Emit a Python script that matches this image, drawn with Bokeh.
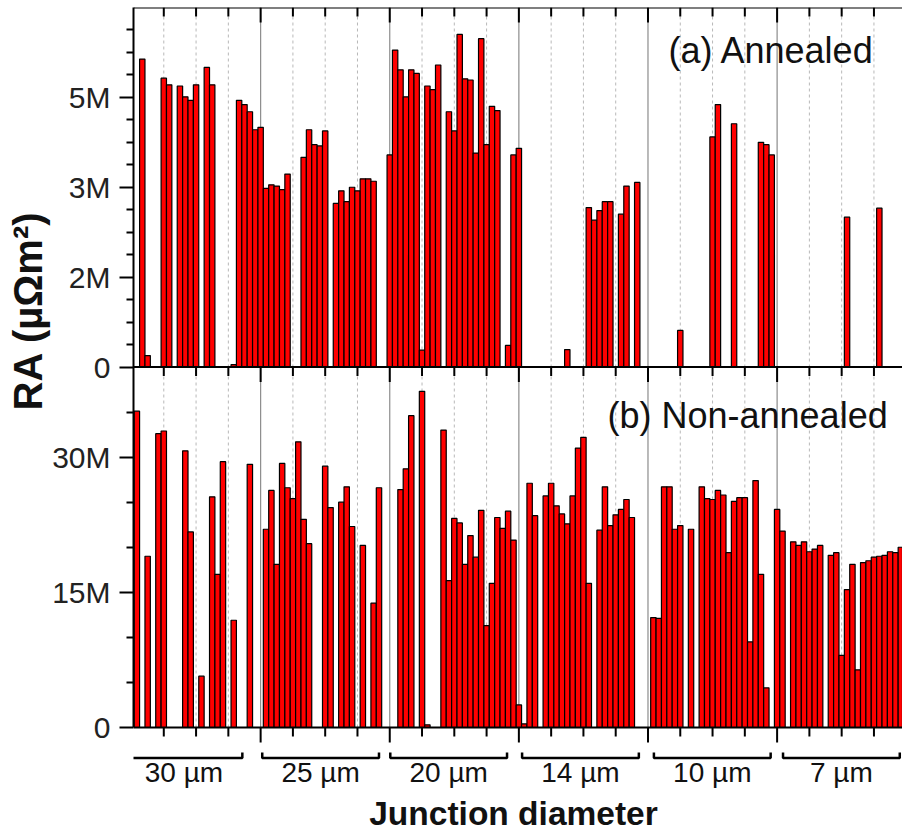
import math
from bokeh.plotting import figure
from bokeh.models import Range1d, FixedTicker, CustomJSTickFormatter, Span
from bokeh.embed import file_html
from bokeh.resources import INLINE
from bokeh.core.properties import value

# ---------------- data (values in units of 1e6 µΩm²) ----------------
groups = ["30 µm", "25 µm", "20 µm", "14 µm", "10 µm", "7 µm"]
slots_per_group = 24
slots_per_minor = 6

# (a) Annealed, one list per junction-diameter group (0 = no junction)
annealed_30 = [0, 5.14, 0.19, 0, 0, 4.82, 4.71, 0, 4.69, 4.51, 4.45, 4.71,
               0, 5.00, 4.71, 0, 0, 0, 0.04, 4.45, 4.38, 4.26, 3.96, 4.00]
annealed_25 = [2.98, 3.04, 3.02, 2.96, 3.22, 0, 0, 3.50, 3.96, 3.71, 3.69, 3.94,
               0, 2.73, 2.94, 2.76, 3.00, 2.94, 3.14, 3.14, 3.10, 0, 0, 3.54]
annealed_20 = [5.29, 4.96, 4.51, 4.96, 4.90, 0.28, 4.69, 4.63, 5.04, 0, 4.26, 3.94,
               5.55, 4.81, 4.79, 3.57, 5.48, 3.71, 4.35, 4.28, 0, 0.36, 3.54, 3.65]
annealed_14 = [0, 0, 0, 0, 0, 0, 0, 0, 0.29, 0, 0, 0,
               2.66, 2.45, 2.61, 2.76, 2.76, 0, 2.55, 3.02, 0, 3.08, 0, 0]
annealed_10 = [0, 0, 0, 0, 0, 0.61, 0, 0, 0, 0, 0, 3.84,
               4.38, 0, 0, 4.06, 0, 0, 0, 0, 3.75, 3.71, 3.54, 0]
annealed_7 = [0, 0, 0, 0, 0, 0, 0, 0, 0, 0, 0, 0,
              2.50, 0, 0, 0, 0, 0, 2.65, 0, 0, 0, 0]

# (b) Non-annealed
nonann_30 = [35.1, 0, 19.0, 0, 32.6, 32.9, 0, 0, 0, 30.7, 21.7, 0,
             5.7, 0, 25.6, 17.0, 29.5, 0, 11.9, 0, 0, 29.2, 0, 0]
nonann_25 = [22.0, 26.3, 18.1, 29.3, 26.6, 25.4, 31.7, 23.1, 20.4, 0, 0, 29.0,
             24.4, 0, 25.0, 26.7, 22.3, 0, 20.2, 0, 13.8, 26.6, 0, 0]
nonann_20 = [0, 26.4, 28.7, 34.6, 0, 37.3, 0.3, 0, 0, 33.0, 16.3, 23.2,
             22.7, 18.1, 21.3, 18.9, 24.1, 11.3, 16.0, 23.3, 22.1, 24.0, 20.8, 2.5]
nonann_14 = [0.4, 27.1, 23.5, 0, 25.7, 27.1, 24.6, 23.7, 22.6, 25.7, 31.0, 32.2,
             16.0, 0, 21.9, 26.7, 22.4, 23.6, 24.2, 25.3, 23.3, 0, 0, 0]
nonann_10 = [12.2, 12.1, 26.7, 26.7, 22.0, 22.4, 0, 22.0, 0, 26.7, 25.4, 25.3,
             26.3, 25.8, 19.4, 25.1, 25.5, 25.5, 9.5, 27.4, 17.0, 4.4, 0, 24.2]
nonann_7 = [21.8, 0, 20.6, 20.2, 20.6, 19.5, 19.8, 20.2, 0, 19.1, 19.4, 8.0,
            15.3, 18.1, 6.4, 18.3, 18.5, 18.9, 19.0, 19.1, 19.5, 19.4, 20.0]

annealed = [annealed_30, annealed_25, annealed_20, annealed_14, annealed_10, annealed_7]
nonannealed = [nonann_30, nonann_25, nonann_20, nonann_14, nonann_10, nonann_7]

top_ticks = [0, 1.5e6, 3e6, 4.5e6]
top_minor = [0.375e6, 0.75e6, 1.125e6, 1.875e6, 2.25e6, 2.625e6,
             3.375e6, 3.75e6, 4.125e6, 4.875e6, 5.25e6, 5.625e6]
bot_ticks = [0, 15e6, 30e6]
bot_minor = [5e6, 10e6, 20e6, 25e6, 35e6]
top_max = 6e6
bot_max = 40e6

# ---------------- layout constants (page pixels) ----------------
W, H = 902, 836
PX_LEFT, PX_RIGHT = 133, 902
PX_TOP, PX_MID, PX_ZERO, PX_BOT = 7, 366.5, 727, 836
SX = 5.38                       # px per slot
X0 = 0.37
X1 = X0 + (PX_RIGHT - PX_LEFT) / SX
BASE_SHIFT = 0.35               # measured baseline offset of svg text (em)

sB = bot_max / (PX_ZERO - PX_MID)     # data per px, bottom panel
sT = top_max / (PX_MID - PX_TOP)      # data per px, top panel
K = sB / sT


def xd(px):
    return X0 + (px - PX_LEFT) / SX


def yb(py):
    return (PX_ZERO - py) * sB


def yt(py):
    return (PX_MID - py) * sT


FONT = "Liberation Sans"

p = figure(width=W, height=H, output_backend="svg", toolbar_location=None,
           x_range=Range1d(X0, X1),
           y_range=Range1d(yb(PX_BOT), yb(PX_TOP)),
           x_axis_location=None,
           title="RA (µΩm²)", title_location="left",
           min_border_left=PX_LEFT, min_border_right=0,
           min_border_top=PX_TOP, min_border_bottom=0)
p.extra_y_ranges = {"top": Range1d(yt(PX_BOT), top_max)}
p.outline_line_color = None
p.xgrid.visible = False
p.ygrid.visible = False
p.background_fill_color = "white"
p.border_fill_color = "white"

# y-axis title (left title, text starts 410 px down the page)
p.title.align = "left"
p.title.offset = PX_BOT - 410
p.title.text_font = FONT
p.title.text_font_size = "40px"
p.title.text_font_style = "bold"
p.title.text_color = "#111111"
p.title.standoff = 0

# ---------------- x positions ----------------
xs_top, v_top, xs_bot, v_bot = [], [], [], []
for g in range(len(groups)):
    for i, v in enumerate(annealed[g]):
        if v > 0:
            xs_top.append(g * slots_per_group + i + 1)
            v_top.append(v * 1e6)
    for i, v in enumerate(nonannealed[g]):
        if v > 0:
            xs_bot.append(g * slots_per_group + i + 1)
            v_bot.append(v * 1e6)

n_slots = len(groups) * slots_per_group
majors = [slots_per_group * (g + 1) for g in range(len(groups) - 1)]
minors = [k for k in range(slots_per_minor, n_slots, slots_per_minor) if k % slots_per_group != 0]

# vertical grid lines (behind bars)
p.segment(x0=minors, y0=[0] * len(minors), x1=minors, y1=[yb(PX_TOP)] * len(minors),
          line_color="#b8b8b8", line_width=1, line_dash="3 3")
p.segment(x0=majors, y0=[0] * len(majors), x1=majors, y1=[yb(PX_TOP)] * len(majors),
          line_color="#8c8c8c", line_width=1.2)

# bars
p.vbar(x=xs_top, top=v_top, bottom=0, width=1.0, y_range_name="top",
       fill_color="#ff0000", line_color="black", line_width=1.2)
p.vbar(x=xs_bot, top=v_bot, bottom=0, width=1.0,
       fill_color="#ff0000", line_color="black", line_width=1.2)

# horizontal frame lines
for loc in (yb(PX_TOP), bot_max, 0):
    p.add_layout(Span(location=loc, dimension="width", line_color="black", line_width=2))

# x ticks (top edge inward, boundary downward, bottom outward)
LMIN, LMAJ = 9, 15
tick_x = minors + majors
tick_len = [LMIN] * len(minors) + [LMAJ] * len(majors)
p.segment(x0=tick_x, y0=[top_max] * len(tick_x), x1=tick_x,
          y1=[top_max - L * sT for L in tick_len], y_range_name="top",
          line_color="black", line_width=2)
p.segment(x0=tick_x, y0=[bot_max] * len(tick_x), x1=tick_x,
          y1=[bot_max - L * sB for L in tick_len], line_color="black", line_width=2)
p.segment(x0=tick_x, y0=[0] * len(tick_x), x1=tick_x,
          y1=[-L * sB for L in tick_len], line_color="black", line_width=2)

# y axis (bottom panel values directly, top panel values mapped above boundary)
ax = p.yaxis[0]
ax.bounds = (0, yb(PX_TOP))
ax.ticker = FixedTicker(ticks=bot_ticks + [bot_max + t * K for t in top_ticks],
                        minor_ticks=bot_minor + [bot_max + t * K for t in top_minor])
ax.formatter = CustomJSTickFormatter(args=dict(B=bot_max, K=K), code="""
    let v = tick;
    if (tick > B + 1) { v = (tick - B) / K; }
    else if (Math.abs(tick - B) <= 1) { v = 0; }
    if (Math.abs(v) < 1) { return "0"; }
    return Math.round(v / 1e6 + 1e-9) + "M";
""")
ax.axis_line_width = 2
ax.major_tick_line_width = 2
ax.minor_tick_line_width = 2
ax.major_tick_out = 14
ax.major_tick_in = 0
ax.minor_tick_out = 7
ax.minor_tick_in = 0
ax.major_label_standoff = 9
ax.major_label_text_font = FONT
ax.major_label_text_font_size = "30px"
ax.major_label_text_color = "#222222"


def text_at(x, y_px, txt, size, to_y, **kw):
    """place text so its baseline lands on page row y_px"""
    y = to_y(y_px - BASE_SHIFT * size)
    return x, y


# brackets under groups
br_start = [-1.1, 24.3, 48.1, 72.6, 97.1, 121.1]
br_len = 21.7
br_xs, br_ys, br_cx = [], [], []
for s in br_start:
    e = s + br_len
    br_xs.append([s, s, e, e])
    br_ys.append([yb(752), yb(757.5), yb(757.5), yb(752)])
    br_cx.append((s + e) / 2)
p.multi_line(xs=br_xs, ys=br_ys, line_color="black", line_width=2.5)
p.text(x=br_cx, y=[yb(782 - BASE_SHIFT * 28)] * len(br_cx), text=groups,
       text_align="center", text_baseline="alphabetic", text_font=value(FONT),
       text_font_size="28px", text_color="#111111")

# x-axis title
p.text(x=[xd(513)], y=[yb(825 - BASE_SHIFT * 33.5)], text=["Junction diameter"],
       text_align="center", text_baseline="alphabetic", text_font=value(FONT),
       text_font_size="33.5px", text_font_style="bold", text_color="#111111")

# panel labels
p.text(x=[xd(668)], y=[yt(63 - BASE_SHIFT * 36)], text=["(a) Annealed"],
       y_range_name="top", text_align="left", text_baseline="alphabetic",
       text_font=value(FONT), text_font_size="36px", text_color="#111111")
p.text(x=[xd(607)], y=[yb(428 - BASE_SHIFT * 36)], text=["(b) Non-annealed"],
       text_align="left", text_baseline="alphabetic", text_font=value(FONT),
       text_font_size="36px", text_color="#111111")

open("out.html", "w").write(file_html(p, INLINE))
